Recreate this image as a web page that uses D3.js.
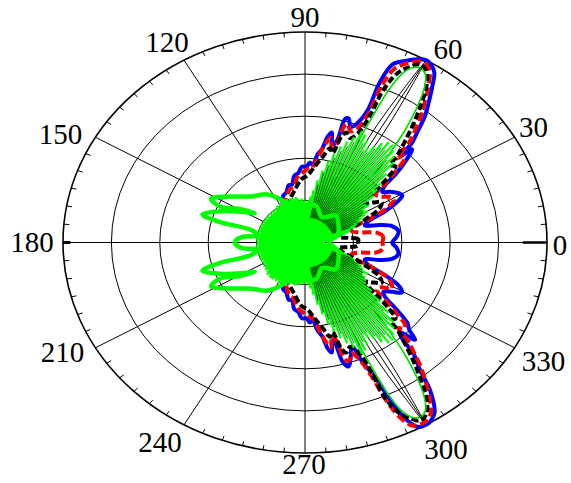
<!DOCTYPE html>
<html>
<head>
<meta charset="utf-8">
<script src="https://cdn.jsdelivr.net/npm/d3@7"></script>
<style>
  html, body { margin: 0; padding: 0; background: #fff; }
  svg { display: block; }
</style>
</head>
<body>
<svg id="chart" width="571" height="483"></svg>
<script>
// Angular axis labels (degrees) and radial rings (dB)
const angleTicks = [0, 30, 60, 90, 120, 150, 180, 210, 240, 270, 300, 330]
const ringLevels = [-40, -30, -20, -10, 0]

// Pattern series, [angle in degrees, level in dB]
const blue = [
  [0,-32],[4,-31],[8,-30.5],[12,-31.5],[15,-34],[18,-37],[21,-36],[24,-32],[27,-28.5],[29,-27],
  [31,-27.3],[34,-28.5],[37,-30],[39,-29],[41,-25],[43,-21.5],[45,-18.7],[46,-21.5],[47,-17.5],
  [48.5,-15],[50.5,-11],[52.5,-8],[54.5,-4.8],[56.5,-1.6],[58.5,-0.3],[60,0],[62,-0.7],[64.4,-2.2],
  [66.8,-3.9],[67.9,-8.9],[67.6,-16],[69,-19.5],[71,-21],[73,-19.2],[74.2,-19.5],[74.8,-25],
  [76.5,-26],[78,-23.3],[79.5,-24.5],[81,-27.5],[83,-29],[85,-31.5],[87,-31],[89,-32],[92,-32],
  [95,-33.5],[98,-34],[101,-36],[104,-36],[108,-37.5],[112,-38],[116,-39.5],[121,-40.5],[130,-42],
  [140,-43],[150,-43.5],[165,-43.5],[180,-42.8],[195,-43.5],[210,-43.5],[220,-43],[230,-42],
  [239,-40.5],[244,-39.5],[248,-38],[252,-37.5],[256,-36],[259,-36],[262,-34],[265,-33.5],[268,-32],
  [271,-32],[273,-31],[275,-31.5],[277,-29],[279,-27.5],[280.5,-24.5],[282,-23.3],[283.5,-26],
  [284.5,-25.5],[285.4,-20.5],[287,-19.2],[289,-21],[291.4,-23.5],[292.8,-19],[294.6,-14],
  [295.1,-8.7],[296.5,-2.9],[298.1,-0.3],[300,0],[301.5,-0.3],[303.5,-1.5],[306.4,-6.5],[308.1,-11.5],
  [310.4,-15.5],[311.2,-19.3],[312.5,-21],[314.6,-17.6],[316,-20],[318,-21.6],[320,-25.5],[322,-29],
  [324,-30],[327,-28.5],[329.3,-26.7],[332,-28],[335,-32],[338,-36],[342,-37],[345,-34],[348,-31.5],
  [352,-30.5],[356,-31]
]

const red = [
  [0,-34],[5,-33.8],[9,-35],[12,-38.5],[16,-40],[20,-39],[23,-35],[26,-31],[29,-29],[32,-29.5],
  [35,-31],[38,-31.5],[40,-28.5],[42,-25],[44,-21.5],[45.5,-21],[46.5,-22.5],[47.8,-18],[49.5,-15],
  [51.5,-11.5],[53.5,-8.3],[55.5,-5],[57.5,-2],[59.3,-0.8],[61,-0.8],[63,-2],[64.8,-3.5],[66,-5],
  [67,-9.5],[66.8,-16.5],[68,-20.5],[70.5,-22],[72.5,-20.5],[73.5,-21],[74.5,-26],[76,-27],[78,-24.5],
  [80,-26.5],[82,-29],[85,-32],[88,-32.5],[92,-33.5],[96,-34.5],[100,-36.5],[104,-37],[109,-38.5],
  [115,-40.5],[122,-41.5],[135,-43.5],[160,-44.5],[180,-44],[200,-44.5],[225,-43.5],[238,-41.5],
  [245,-40.5],[251,-38.5],[256,-37],[260,-36.5],[264,-34.5],[268,-33.5],[272,-32.5],[275,-32],
  [278,-29],[280,-26.5],[282,-24.5],[284,-27],[285.5,-26],[286.5,-21],[288,-20.5],[290,-22],
  [292,-20],[293.5,-15],[294,-9.5],[295.3,-4],[297,-1.2],[299,-0.7],[301,-0.8],[302.8,-2],[304.8,-5],
  [306.8,-8.3],[309,-12],[311,-16],[312.4,-18.5],[313.5,-22],[315,-21],[316.5,-21.5],[318.5,-25],
  [320.5,-28.5],[323,-31.5],[326,-31],[328.5,-29],[331,-29.5],[334,-31],[337,-35],[340,-39],
  [344,-40],[348,-38.5],[351,-35],[355,-33.8]
]

const black = [
  [0,-39],[4,-39],[7,-41],[11,-43],[16,-42],[21,-39],[25,-35],[28,-32.5],[31,-31.5],[34,-33],
  [37,-34.5],[40,-31],[42,-27],[44,-24],[46,-24.5],[47.5,-21.5],[49.5,-18],[51.5,-14],[53.5,-10],
  [55.5,-6],[57.5,-3],[59.5,-1.6],[61,-1.6],[62.5,-3],[64,-4.5],[65.2,-7],[66,-11],[66,-17],
  [67.2,-22],[69.5,-23.5],[72,-22.5],[73.5,-24],[75,-28],[77,-27],[80,-29.5],[84,-32],[88,-34],
  [93,-35],[100,-37.5],[108,-39.5],[118,-41.5],[135,-44],[180,-45],[225,-44],[242,-41.5],[252,-39.5],
  [260,-37.5],[267,-35],[272,-34],[276,-32],[280,-29.5],[283,-27],[285,-28],[286.5,-24],[288,-22.5],
  [290.5,-23.5],[292.8,-22],[294,-17],[294,-11],[294.8,-7],[296,-4.5],[297.5,-3],[299,-1.6],
  [300.5,-1.6],[302.5,-3],[304.5,-6],[306.5,-10],[308.5,-14],[310.5,-18],[312.5,-21.5],[314,-24.5],
  [316,-24],[318,-27],[320,-31],[323,-34.5],[326,-33],[329,-31.5],[332,-32.5],[335,-35],[339,-39],
  [344,-42],[349,-43],[353,-41],[356,-39]
]

const green = [
  [0,-45],[15,-43],[30,-42],[45,-41],[60,-43],[75,-41],[90,-41.5],[100,-42.5],[110,-40.5],[118,-38],
  [125,-36],[135,-34.5],[145,-31],[151.8,-28],[154,-30.5],[150,-34],[146,-37.5],[150,-35.5],[157,-31],
  [162.5,-27.8],[164.5,-31.5],[165,-38.5],[170,-40],[174,-37],[178,-35.7],[180,-35.5],[182,-35.7],
  [186,-37],[190,-40],[195,-38.5],[195.5,-31.5],[197.5,-27.8],[203,-31],[210,-35.5],[214,-37.5],
  [210,-34],[206,-30.5],[208.2,-28],[215,-31],[225,-34.5],[235,-36],[242,-38],[250,-40.5],[260,-42.5],
  [270,-41.5],[285,-41],[300,-43],[315,-41],[330,-42],[345,-43]
]

// thin green lines radiating from the centre, one every 2 degrees from 0
const greenFanStep = 2
const greenFan = [
  -46,-46,-45.5,-45,-44,-43.5,-42.5,-41.5,-40.5,-40,-39,-38.5,-37.5,-37,-36,-35,-35.5,-34,-34.5,-32,
  -30.5,-29,-26.5,-23.5,-22.5,-21.5,-20.5,-20.5,-21.5,-23,-24,-22.5,-21.5,-21,-23,-24.5,-26,-28,-30,-32.5,
  -35,-37.5,-39,-40,-40.5,
  -40,-40,-39.5,-40,-39.5,-39,-39.5,-39,-39,-39.5,-39,-39,-39.5,-39,-39.5,-39.5,-40,-39.5,-40,-40,
  -40.5,-40,-40.5,-40,-40.5,-40.5,-40,-40.5,-40,-40.5,-40,-40.5,-40,-40.5,-40,-40,-40.5,-40,-40.5,-40,
  -40,-40.5,-40,-40,-40.5,
  -40,-40,-40.5,-40,-40,-40.5,-40,-40.5,-40,-40.5,-40,-40.5,-40,-40.5,-40,-40,-40.5,-40,-40,-39.5,
  -40,-39.5,-39,-39.5,-39,-39,-39,-39.5,-39,-39.5,-39,-39,-39.5,-39,-39.5,-40,-39.5,-40,-40,-39.5,
  -40,-40,-40,-40.5,-40,
  -40.5,-40.5,-40,-39,-37.5,-35,-32.5,-30,-28,-26,-24.5,-23,-21,-21.5,-22.5,-24,-23,-21.5,-20.5,-20.5,
  -21.5,-22.5,-23.5,-26,-29,-32,-34,-34.5,-35,-36,-35,-36.5,-37,-38.5,-39,-40,-41,-42,-43,-43.5,
  -44,-45,-45.5,-46,-46
]

// thin black lines among the green ones
const blackFan = [
  [21,-40],[23,-39],[25,-38],[27,-37.5],[29,-36.5],[31,-36],[33,-36],[35,-35],[37,-34.5],[39,-33],
  [41,-31.5],[43,-29.5],[45,-27],[47,-25],[49,-24],[51,-23],[53,-22.5],[55,-22.5],[57,-23.5],[59,-25],
  [61,-25],[63,-23.5],[65,-23],[67,-24],[69,-25.5],[71,-27],[73,-29],[75,-31],[77,-33],[79,-36],
  [281,-36],[283,-33],[285,-31],[287,-29],[289,-27],[291,-25.5],[293,-24],[295,-23],[297,-23.5],
  [299,-25],[301,-25],[303,-23.5],[305,-22.5],[307,-22.5],[309,-23],[311,-24],[313,-25],[315,-27],
  [317,-29.5],[319,-31.5],[321,-33],[323,-34.5],[325,-35],[327,-36],[329,-36],[331,-36.5],
  [333,-37.5],[335,-38],[337,-39],[339,-40]
]

// thin inner outline of the two main beams
const greenBeam = [
  [0,-47],[46,-46],[48,-30],[50,-24],[52,-17],[54,-11],[56,-6],[58,-3],[60,-2.2],[62,-3],[63.5,-5.5],
  [64.5,-10],[65,-17],[65.5,-25],[66.5,-32],[69,-46],[180,-47],[291,-46],[293.5,-32],[294.5,-25],
  [295,-17],[295.5,-10],[296.5,-5.5],[298,-3],[300,-2.2],[302,-3],[304,-6],[306,-11],[308,-17],
  [310,-24],[312,-30],[314,-46]
]

// narrow centre line of each beam
const blackBeam = [
  [0,-48],[56,-45],[58,-20],[59.2,-8],[60,-1.2],[60.8,-8],[62,-20],[64,-45],[180,-48],
  [296,-45],[298,-20],[299.2,-8],[300,-1.2],[300.8,-8],[302,-20],[304,-45]
]

const W = 571, H = 483
const cx = 305, cy = 242.5, rx = 242, ry = 210.5

const svg = d3.select('#chart')

const rScale = d3.scaleLinear().domain([-50, 0]).range([0, 1]).clamp(true)
const xScale = d3.scaleLinear().domain([-1, 1]).range([cx - rx, cx + rx])
const yScale = d3.scaleLinear().domain([-1, 1]).range([cy + ry, cy - ry])

const rad = deg => deg * Math.PI / 180
const px = (deg, db) => xScale(rScale(db) * Math.cos(rad(deg)))
const py = (deg, db) => yScale(rScale(db) * Math.sin(rad(deg)))

const closedLine = d3.line()
  .x(d => px(d[0], d[1]))
  .y(d => py(d[0], d[1]))
  .curve(d3.curveCatmullRomClosed.alpha(0.5))

// grid
const grid = svg.append('g').attr('class', 'grid')
  .attr('fill', 'none').attr('stroke', '#000')

grid.selectAll('ellipse')
  .data(ringLevels)
  .enter().append('ellipse')
  .attr('cx', cx).attr('cy', cy)
  .attr('rx', d => xScale(rScale(d)) - cx)
  .attr('ry', d => cy - yScale(rScale(d)))
  .attr('stroke-width', d => d === 0 ? 1.6 : 1)

grid.selectAll('line.spoke')
  .data(angleTicks)
  .enter().append('line')
  .attr('class', 'spoke')
  .attr('x1', cx).attr('y1', cy)
  .attr('x2', d => px(d, 0)).attr('y2', d => py(d, 0))
  .attr('stroke-width', 1)

// minor ticks every 5 degrees, pointing inward
grid.selectAll('line.tick')
  .data(d3.range(0, 360, 5).filter(a => a % 30 !== 0))
  .enter().append('line')
  .attr('class', 'tick')
  .attr('x1', d => px(d, 0)).attr('y1', d => py(d, 0))
  .attr('x2', d => px(d, -1.1)).attr('y2', d => py(d, -1.1))
  .attr('stroke-width', 1)

// heavier major ticks on the horizontal axis
grid.append('line')
  .attr('x1', px(0, -5)).attr('y1', py(0, 0)).attr('x2', px(0, 0)).attr('y2', py(0, 0))
  .attr('stroke-width', 2.5)
grid.append('line')
  .attr('x1', px(180, -1.5)).attr('y1', py(180, 0)).attr('x2', px(180, 0)).attr('y2', py(180, 0))
  .attr('stroke-width', 3)

// series
const series = svg.append('g').attr('class', 'series').attr('fill', 'none')
  .attr('stroke-linejoin', 'round')

series.append('path').datum(blue)
  .attr('d', closedLine)
  .attr('stroke', '#0000ff').attr('stroke-width', 4)

series.append('path').datum(red)
  .attr('d', closedLine)
  .attr('stroke', '#ff0000').attr('stroke-width', 4)
  .attr('stroke-dasharray', '9,4')

series.append('path').datum(black)
  .attr('d', closedLine)
  .attr('stroke', '#000').attr('stroke-width', 4)
  .attr('stroke-dasharray', '7,3')

series.append('path').datum(greenBeam)
  .attr('d', closedLine)
  .attr('stroke', '#00dd00').attr('stroke-width', 1.6)

series.append('path').datum(blackBeam)
  .attr('d', closedLine)
  .attr('stroke', '#000').attr('stroke-width', 1)

series.selectAll('line.gfan')
  .data(greenFan)
  .enter().append('line')
  .attr('class', 'gfan')
  .attr('x1', cx).attr('y1', cy)
  .attr('x2', (d, i) => px(i * greenFanStep, d))
  .attr('y2', (d, i) => py(i * greenFanStep, d))
  .attr('stroke', '#00ff00').attr('stroke-width', 2.2)

// black strands start a little way out so the centre stays green
series.selectAll('line.kfan')
  .data(blackFan)
  .enter().append('line')
  .attr('class', 'kfan')
  .attr('x1', d => px(d[0], -44)).attr('y1', d => py(d[0], -44))
  .attr('x2', d => px(d[0], d[1]))
  .attr('y2', d => py(d[0], d[1]))
  .attr('stroke', '#000').attr('stroke-width', 0.7)

series.append('path').datum(green)
  .attr('d', closedLine)
  .attr('stroke', '#00ff00').attr('stroke-width', 4.5)

// angle labels, nudged off the end of each spoke
const labelNudge = {
  0: [13, 2], 30: [19, -10], 60: [22, -11], 90: [0, -15], 120: [-17, -18], 150: [-35, -3],
  180: [-31, -1], 210: [-33, 4], 240: [-24, 17], 270: [-1, 11], 300: [20, 24], 330: [29, 13]
}

svg.append('g').attr('class', 'labels')
  .selectAll('text')
  .data(angleTicks)
  .enter().append('text')
  .attr('x', d => px(d, 0) + labelNudge[d][0])
  .attr('y', d => py(d, 0) + labelNudge[d][1])
  .attr('text-anchor', 'middle')
  .attr('dominant-baseline', 'central')
  .attr('font-family', '"Liberation Serif", "Times New Roman", serif')
  .attr('font-size', '29px')
  .attr('fill', '#000')
  .text(d => d)
</script>
</body>
</html>
